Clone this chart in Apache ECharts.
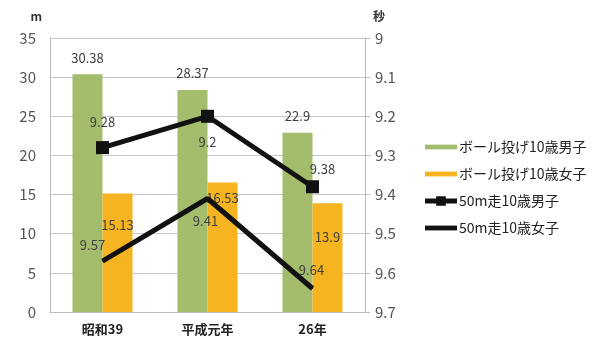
<!DOCTYPE html>
<html><head><meta charset="utf-8">
<script src="https://cdn.jsdelivr.net/npm/echarts@6/dist/echarts.min.js"></script>
<style>html,body{margin:0;padding:0;background:#fff}#c{width:616px;height:340px}</style>
</head><body><div id="c"></div>
<script>
const categories = ['昭和39', '平成元年', '26年'];
const ballBoys = [30.38, 28.37, 22.9];
const ballGirls = [15.13, 16.53, 13.9];
const runBoys = [9.28, 9.2, 9.38];
const runGirls = [9.57, 9.41, 9.64];
const leftTicks = [0, 35, 5];
const rightTicks = [9, 9.7, 0.1];
const names = ['ボール投げ10歳男子', 'ボール投げ10歳女子', '50m走10歳男子', '50m走10歳女子'];

const font = '"Noto Sans CJK JP", "Noto Sans", sans-serif';
const lblStyle = {fontFamily: font, fontSize: 13, color: '#404040'};

const girlsBarOffsets = [[0, 20], [0, 4], [0, 22]];
const boysRunOffsets = [[0, -26], [0, 26], [10, -18]];
const girlsRunOffsets = [[-10, -16], [-2, 23], [-1, -18]];

const barIcon = 'path://M0,0h40v6H0z';
const boysIcon = 'path://M0,3h40v6H0z M14,0h12v12H14z';

const chart = echarts.init(document.getElementById('c'));
chart.setOption({
  animation: false,
  textStyle: {fontFamily: font},
  grid: {left: 50, right: 251, top: 38, bottom: 28},
  legend: {
    orient: 'vertical', left: 420, top: 135,
    itemWidth: 32, itemHeight: 12, itemGap: 13,
    textStyle: {fontFamily: font, fontSize: 14, color: '#222', padding: [0, 0, 0, -3]},
    data: [
      {name: names[0], icon: barIcon},
      {name: names[1], icon: barIcon},
      {name: names[2], icon: boysIcon},
      {name: names[3], icon: barIcon}
    ]
  },
  xAxis: {
    type: 'category', data: categories,
    axisLine: {lineStyle: {color: '#bbb'}},
    axisTick: {show: false},
    axisLabel: {fontFamily: font, fontSize: 13, fontWeight: 'bold', color: '#222', margin: 11}
  },
  yAxis: [
    {
      type: 'value', min: leftTicks[0], max: leftTicks[1], interval: leftTicks[2],
      name: 'm', nameLocation: 'end', nameGap: 16,
      nameTextStyle: {fontFamily: font, fontSize: 12, fontWeight: 'bold', color: '#333', align: 'right', padding: [0, 8, 0, 0]},
      axisLine: {show: true, lineStyle: {color: '#bbb'}},
      axisTick: {show: false},
      axisLabel: {fontFamily: font, fontSize: 15, color: '#555', margin: 14},
      splitLine: {lineStyle: {color: '#c8c8c8'}}
    },
    {
      type: 'value', min: rightTicks[0], max: rightTicks[1], interval: rightTicks[2], inverse: true,
      name: '秒', nameLocation: 'start', nameGap: 16,
      nameTextStyle: {fontFamily: font, fontSize: 12, fontWeight: 'bold', color: '#333', align: 'left', padding: [0, 0, 0, 8]},
      axisLine: {show: true, lineStyle: {color: '#bbb'}},
      axisTick: {show: true, length: 5, lineStyle: {color: '#bbb'}},
      axisLabel: {fontFamily: font, fontSize: 15, color: '#555', margin: 10,
        formatter: v => String(Math.round(v * 10) / 10)},
      splitLine: {show: false}
    }
  ],
  series: [
    {
      name: names[0], type: 'bar', data: ballBoys, barWidth: 30, barGap: '0%',
      itemStyle: {color: '#a3bd6c'},
      label: Object.assign({show: true, position: 'top', distance: 10}, lblStyle)
    },
    {
      name: names[1], type: 'bar', data: ballGirls.map((v, i) => ({value: v, label: {offset: girlsBarOffsets[i]}})),
      barWidth: 30,
      itemStyle: {color: '#f6b420'},
      label: Object.assign({show: true, position: 'insideTop'}, lblStyle)
    },
    {
      name: names[2], type: 'line', yAxisIndex: 1,
      data: runBoys.map((v, i) => ({value: v, label: {offset: boysRunOffsets[i]}})),
      symbol: 'rect', symbolSize: 13,
      lineStyle: {color: '#111', width: 5}, itemStyle: {color: '#111'},
      label: Object.assign({show: true, position: 'inside'}, lblStyle)
    },
    {
      name: names[3], type: 'line', yAxisIndex: 1,
      data: runGirls.map((v, i) => ({value: v, label: {offset: girlsRunOffsets[i]}})),
      symbol: 'circle', symbolSize: 1, showSymbol: true,
      lineStyle: {color: '#111', width: 5}, itemStyle: {color: '#111'},
      label: Object.assign({show: true, position: 'inside'}, lblStyle)
    }
  ]
});
</script></body></html>
